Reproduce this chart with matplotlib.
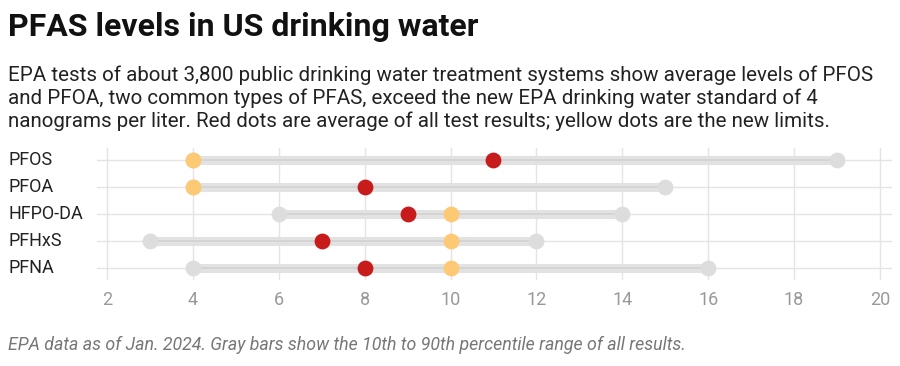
import matplotlib.pyplot as plt
from matplotlib.transforms import blended_transform_factory

plt.rcParams['font.family'] = ['Roboto', 'DejaVu Sans']

# data (nanograms per liter)
compounds = ['PFOS', 'PFOA', 'HFPO-DA', 'PFHxS', 'PFNA']
p10 = [4, 4, 6, 3, 4]
p90 = [19, 15, 14, 12, 16]
average = [11, 8, 9, 7, 8]
limit = [4, 4, 10, 10, 10]
xticks = [2, 4, 6, 8, 10, 12, 14, 16, 18, 20]

fig = plt.figure(figsize=(9, 3.66), dpi=100)
ax = fig.add_axes([97 / 900, 1 - 280 / 366, 795 / 900, 132 / 366])

ypos = list(range(len(compounds)))
px = 773 / 18
ax.set_xlim(2 - 10 / px, 20 + 12 / px)
ax.set_ylim(len(compounds) - 1 + 12 / 27, -12 / 27)

for x in xticks:
    ax.axvline(x, color='#e4e4e4', lw=1, zorder=0)
for y in ypos:
    ax.axhline(y, color='#e4e4e4', lw=1, zorder=0)

for y, lo, hi in zip(ypos, p10, p90):
    ax.plot([lo, hi], [y, y], color='#e2e2e2', lw=6.5, solid_capstyle='butt', zorder=1)
    ax.plot([lo, hi], [y, y], color='#d2d2d2', lw=1.2, zorder=2)

ax.scatter(p10, ypos, s=130, color='#dddddd', zorder=3, linewidths=0)
ax.scatter(p90, ypos, s=130, color='#dddddd', zorder=3, linewidths=0)
ax.scatter(average, ypos, s=130, color='#c81b1b', zorder=4, linewidths=0)
ax.scatter(limit, ypos, s=130, color='#fec974', zorder=5, linewidths=0)

ax.set_xticks(xticks)
ax.set_xticklabels([str(x) for x in xticks], color='#999999', fontsize=13)
ax.tick_params(axis='x', length=0, pad=8)
ax.set_yticks([])
for s in ax.spines.values():
    s.set_visible(False)

tr = blended_transform_factory(fig.transFigure, ax.transData)
for y, name in zip(ypos, compounds):
    ax.text(8 / 900, y, name, transform=tr, ha='left', va='center', fontsize=13, color='#222222')

fig.text(8 / 900, 1 - 27 / 366, 'PFAS levels in US drinking water', fontsize=23,
         fontweight='bold', ha='left', va='center', color='#111111')
fig.text(8 / 900, 1 - 98 / 366,
         'EPA tests of about 3,800 public drinking water treatment systems show average levels of PFOS\n'
         'and PFOA, two common types of PFAS, exceed the new EPA drinking water standard of 4\n'
         'nanograms per liter. Red dots are average of all test results; yellow dots are the new limits.',
         fontsize=14.8, ha='left', va='center', color='#222222', linespacing=1.24)
fig.text(8 / 900, 1 - 345 / 366,
         'EPA data as of Jan. 2024. Gray bars show the 10th to 90th percentile range of all results.',
         fontsize=12.8, style='italic', ha='left', va='center', color='#777777')

fig.savefig('out.png', dpi=100)
